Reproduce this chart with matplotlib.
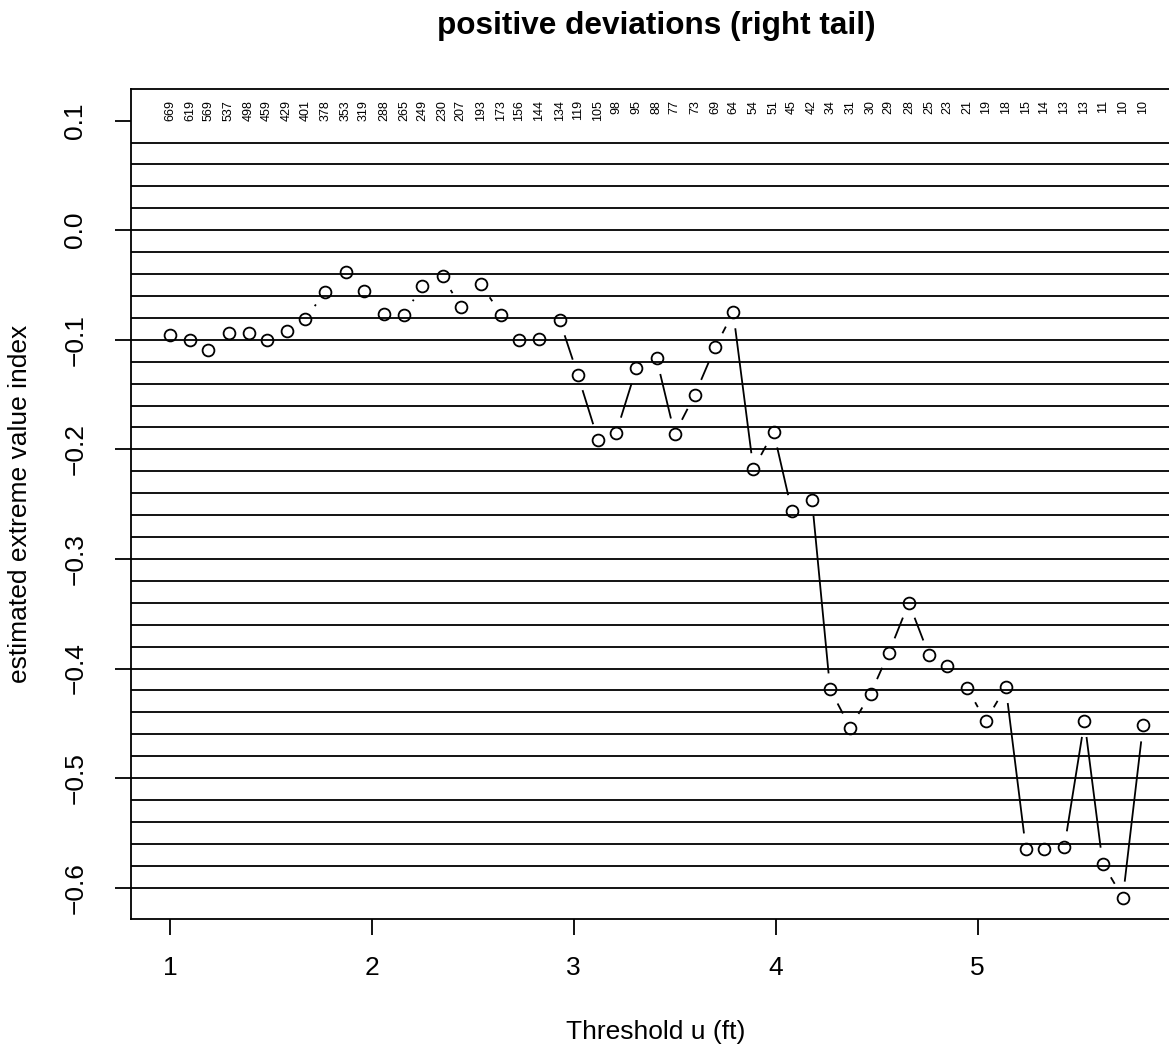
import numpy as np
import matplotlib

matplotlib.use("Agg")
from matplotlib import pyplot as plt

plt.rcParams["font.family"] = ["Liberation Sans", "DejaVu Sans"]

# thresholds u (ft) and estimated extreme value index
thresholds = [
    1.00, 1.10, 1.19, 1.29, 1.39, 1.48, 1.58, 1.67, 1.77, 1.87,
    1.96, 2.06, 2.16, 2.25, 2.35, 2.44, 2.54, 2.64, 2.73, 2.83,
    2.93, 3.02, 3.12, 3.21, 3.31, 3.41, 3.50, 3.60, 3.70, 3.79,
    3.89, 3.99, 4.08, 4.18, 4.27, 4.37, 4.47, 4.56, 4.66, 4.76,
    4.85, 4.95, 5.04, 5.14, 5.24, 5.33, 5.43, 5.53, 5.62, 5.72,
    5.82,
]
evi = [
    -0.096, -0.100, -0.109, -0.094, -0.094, -0.100, -0.092, -0.081, -0.056, -0.038,
    -0.055, -0.076, -0.077, -0.051, -0.042, -0.070, -0.049, -0.077, -0.100, -0.099,
    -0.082, -0.132, -0.191, -0.185, -0.126, -0.117, -0.186, -0.150, -0.107, -0.075,
    -0.218, -0.184, -0.256, -0.246, -0.419, -0.454, -0.423, -0.386, -0.340, -0.388,
    -0.398, -0.418, -0.448, -0.417, -0.565, -0.565, -0.563, -0.448, -0.578, -0.609,
    -0.452,
]
# number of exceedances above each threshold
n_exceed = [
    669, 619, 569, 537, 498, 459, 429, 401, 378, 353,
    319, 288, 265, 249, 230, 207, 193, 173, 156, 144,
    134, 119, 105, 98, 95, 88, 77, 73, 69, 64,
    54, 51, 45, 42, 34, 31, 30, 29, 28, 25,
    23, 21, 19, 18, 15, 14, 13, 13, 11, 10,
    10,
]
h_levels = [
    0.08, 0.06, 0.04, 0.02, 0.00, -0.02, -0.04, -0.06, -0.08, -0.10,
    -0.12, -0.14, -0.16, -0.18, -0.20, -0.22, -0.24, -0.26, -0.28, -0.30,
    -0.32, -0.34, -0.36, -0.38, -0.40, -0.42, -0.44, -0.46, -0.48, -0.50,
    -0.52, -0.54, -0.56, -0.58, -0.60,
]
x_ticks = [1, 2, 3, 4, 5]
y_ticks = [-0.6, -0.5, -0.4, -0.3, -0.2, -0.1, 0.0, 0.1]

W, H = 1169, 1048
fig = plt.figure(figsize=(W / 100, H / 100), dpi=100)
ax = fig.add_axes([131 / W, 1 - 919 / H, (1181 - 131) / W, (919 - 89) / H])
ax.set_xlim(0.807, 6.008)
ax.set_ylim(-0.6286, 0.1289)

lw = 1.3
for lev in h_levels:
    ax.axhline(lev, color="black", lw=lw)

# type="b": line segments with a gap around each point
gap = 16.0
pts = ax.transData.transform(np.column_stack([thresholds, evi]))
inv = ax.transData.inverted()
for p0, p1 in zip(pts[:-1], pts[1:]):
    d = np.hypot(*(p1 - p0))
    if d <= 2 * gap:
        continue
    u = (p1 - p0) / d
    seg = inv.transform(np.array([p0 + gap * u, p1 - gap * u]))
    ax.plot(seg[:, 0], seg[:, 1], color="black", lw=lw, solid_capstyle="butt")

ax.plot(thresholds, evi, ls="none", marker="o", ms=8.5, mfc="none",
        mec="black", mew=1.3)

for x, n in zip(thresholds, n_exceed):
    ax.text(x, 0.9867, str(n), transform=ax.get_xaxis_transform(),
            rotation=90, ha="center", va="top", fontsize=9)

for s in ["left", "bottom", "top"]:
    ax.spines[s].set_linewidth(lw)
ax.spines["right"].set_visible(False)

ax.set_xticks(x_ticks)
ax.set_xticklabels([str(t) for t in x_ticks])
ax.set_yticks(y_ticks)
ax.set_yticklabels([f"{t:.1f}".replace("-", "\u2212") for t in y_ticks],
                   rotation=90, va="center")
ax.tick_params(axis="both", length=11.5, width=lw, labelsize=19)
ax.tick_params(axis="x", pad=15)
ax.tick_params(axis="y", pad=20)

fig.text(656 / W, 1 - 34 / H, "positive deviations (right tail)",
         ha="center", va="baseline", fontsize=22.7, fontweight="bold")
fig.text(656 / W, 1 - 1039 / H, "Threshold u (ft)", ha="center",
         va="baseline", fontsize=19)
fig.text(20 / W, 1 - 504 / H, "estimated extreme value index", rotation=90,
         ha="center", va="center", fontsize=19)

fig.savefig("out.png", dpi=100)
